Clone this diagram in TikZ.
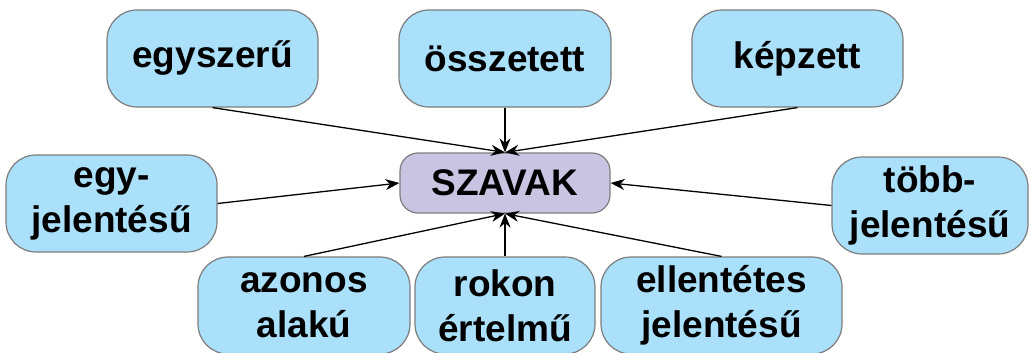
\documentclass[tikz,border=0pt]{standalone}
\usepackage{fontspec}
\setmainfont{Liberation Sans}
\usetikzlibrary{arrows.meta}
\definecolor{boxblue}{RGB}{170,224,250}
\definecolor{boxlav}{RGB}{200,196,226}
\definecolor{boxedge}{RGB}{125,125,125}
\tikzset{
  leaf/.style={draw=boxedge, line width=1.2pt, fill=boxblue, rounded corners=30pt,
    minimum height=97pt, inner sep=0pt, align=center,
    font=\fontsize{37}{45}\selectfont\bfseries},
  hub/.style={draw=boxedge, line width=1.2pt, fill=boxlav, rounded corners=18pt,
    minimum width=210pt, minimum height=60pt, inner sep=0pt,
    font=\fontsize{37}{45}\selectfont\bfseries},
  link/.style={line width=1.3pt, -{Stealth[length=14pt,width=11pt]}}
}
\begin{document}
\begin{tikzpicture}[x=1pt,y=-1pt]
\useasboundingbox (0,0) rectangle (1035,353);
\node[hub] (sz) at (505,183) {SZAVAK};
\node[leaf, minimum width=211pt] (egysz) at (212.5,58.5) {egyszerű};
\node[leaf, minimum width=212pt] (ossz) at (505,58.5) {összetett};
\node[leaf, minimum width=211pt] (kep) at (797.5,58.5) {képzett};
\node[leaf, minimum width=211pt] (egyj) at (111.5,203.5) {egy-\\jelentésű};
\node[leaf, minimum width=196pt] (tobb) at (930,205.5) {több-\\jelentésű};
\node[leaf, minimum width=212pt] (azon) at (304,305.5) {azonos\\alakú};
\node[leaf, minimum width=180pt] (rok) at (505,305.5) {rokon\\értelmű};
\node[leaf, minimum width=241pt] (ell) at (721.5,305.5) {ellentétes\\jelentésű};
\draw[link] (egysz.south) -- (sz.north);
\draw[link] (ossz.south) -- (sz.north);
\draw[link] (kep.south) -- (sz.north);
\draw[link] (egyj.east) -- (sz.west);
\draw[link] (tobb.west) -- (sz.east);
\draw[link] (azon.north) -- (sz.south);
\draw[link] (rok.north) -- (sz.south);
\draw[link] (ell.north) -- (sz.south);
\end{tikzpicture}
\end{document}
